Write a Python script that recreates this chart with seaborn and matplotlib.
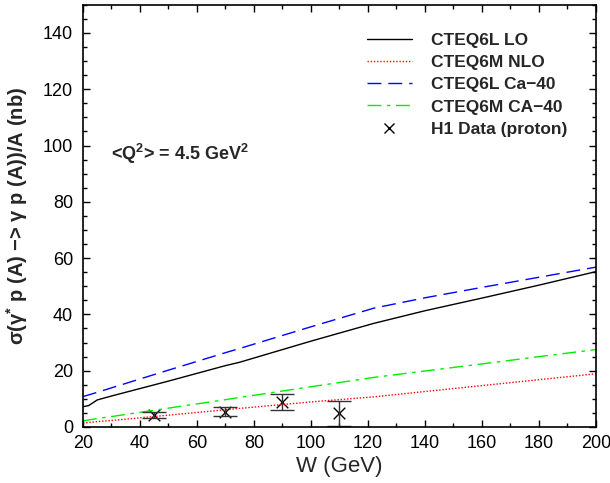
import matplotlib
matplotlib.use("Agg")
import matplotlib.pyplot as plt
import seaborn as sns
import pandas as pd
import numpy as np
from matplotlib.ticker import MultipleLocator
from matplotlib.lines import Line2D
from matplotlib.legend_handler import HandlerLine2D

# ---- data ----
w_curve = [20, 22, 25, 30, 50, 70, 75, 100, 122, 140, 160, 180, 200]
lo_6l = [7.2, 7.6, 9.6, 11.0, 16.3, 21.8, 23.0, 30.5, 36.8, 41.3, 45.8, 50.4, 55.2]
nlo_6m = [1.4, 1.6, 1.9, 2.3, 4.2, 6.1, 6.6, 8.9, 10.7, 12.6, 14.7, 16.8, 18.9]
ca40_6l = [10.8, 11.4, 12.3, 13.9, 20.2, 26.4, 27.9, 35.6, 42.2, 45.9, 49.6, 53.2, 56.8]
ca40_6m = [2.2, 2.5, 3.0, 3.7, 6.7, 9.7, 10.5, 14.3, 17.6, 19.9, 22.4, 25.0, 27.5]

h1_w = [45, 70, 90, 110]
h1_sigma = [4.2, 5.4, 9.0, 4.9]
h1_err = [1.0, 1.6, 2.8, 4.5]

series_names = ["CTEQ6L LO", "CTEQ6M NLO", "CTEQ6L Ca\u221240", "CTEQ6M CA\u221240"]
series_vals = [lo_6l, nlo_6m, ca40_6l, ca40_6m]
colors = ["black", "red", "blue", "#00ee00"]
styles = ["-", (0, (1, 1.3)), (0, (10, 5)), (0, (10, 4, 2.5, 4))]


class HandlerMarkerRight(HandlerLine2D):
    def get_xdata(self, legend, xdescent, ydescent, width, height, fontsize):
        xdata = [-xdescent, -xdescent + width]
        xdata_marker = [-xdescent + 0.88 * width]
        return xdata, xdata_marker


sns.set_style("ticks")
plt.rcParams["font.family"] = ["Liberation Sans", "DejaVu Sans"]
plt.rcParams["mathtext.default"] = "regular"

fig = plt.figure(figsize=(6.1, 4.83), dpi=100)
ax = fig.add_axes([0.136, 0.116, 0.841, 0.874])

df = pd.DataFrame({
    "W": np.tile(w_curve, len(series_names)),
    "sigma": np.concatenate(series_vals),
    "model": np.repeat(series_names, len(w_curve)),
})

handles = []
for name, c, ls in zip(series_names, colors, styles):
    sub = df[df["model"] == name]
    sns.lineplot(data=sub, x="W", y="sigma", ax=ax, color=c, linewidth=1.0,
                 linestyle=ls, legend=False)
    handles.append(Line2D([], [], color=c, linestyle=ls, linewidth=1.0, label=name))

ax.errorbar(h1_w, h1_sigma, yerr=h1_err, fmt="none", ecolor="#333333",
            elinewidth=1.0, capsize=8.5, capthick=1.0)
sns.scatterplot(x=h1_w, y=h1_sigma, ax=ax, marker="x", color="black", s=70,
                linewidth=1.0, legend=False)
h1_handle = Line2D([], [], color="black", marker="x", linestyle="none",
                   markersize=7, label="H1 Data (proton)")
handles.append(h1_handle)

ax.set_xlim(20, 200)
ax.set_ylim(0, 150)
ax.xaxis.set_major_locator(MultipleLocator(20))
ax.xaxis.set_minor_locator(MultipleLocator(10))
ax.yaxis.set_major_locator(MultipleLocator(20))
ax.yaxis.set_minor_locator(MultipleLocator(5))
ax.tick_params(which="both", direction="in", top=True, right=True,
               labelsize=13, colors="black")
ax.tick_params(axis="y", which="major", pad=7)
ax.tick_params(axis="x", which="major", pad=6)
ax.tick_params(which="major", length=5, width=1)
ax.tick_params(which="minor", length=3, width=1)
for sp in ax.spines.values():
    sp.set_linewidth(1.2)
    sp.set_color("black")

ax.set_xlabel("W (GeV)", fontsize=16, labelpad=3)
ax.set_ylabel("\u03c3(\u03b3$^{*}$ p (A) \u2212> \u03b3 p (A))/A (nb)",
              fontsize=14.5, fontweight="bold", labelpad=9)

ax.text(30, 97, "<Q$^{2}$> = 4.5 GeV$^{2}$", fontsize=13, fontweight="bold",
        ha="left", va="center")

leg = ax.legend(handles=handles, loc="upper right", bbox_to_anchor=(0.975, 0.97),
                frameon=False, prop={"weight": "bold", "size": 12.5},
                handlelength=2.6, labelspacing=0.4, handletextpad=1.1,
                handler_map={h1_handle: HandlerMarkerRight(numpoints=1)})

fig.savefig("out.png", dpi=100)
